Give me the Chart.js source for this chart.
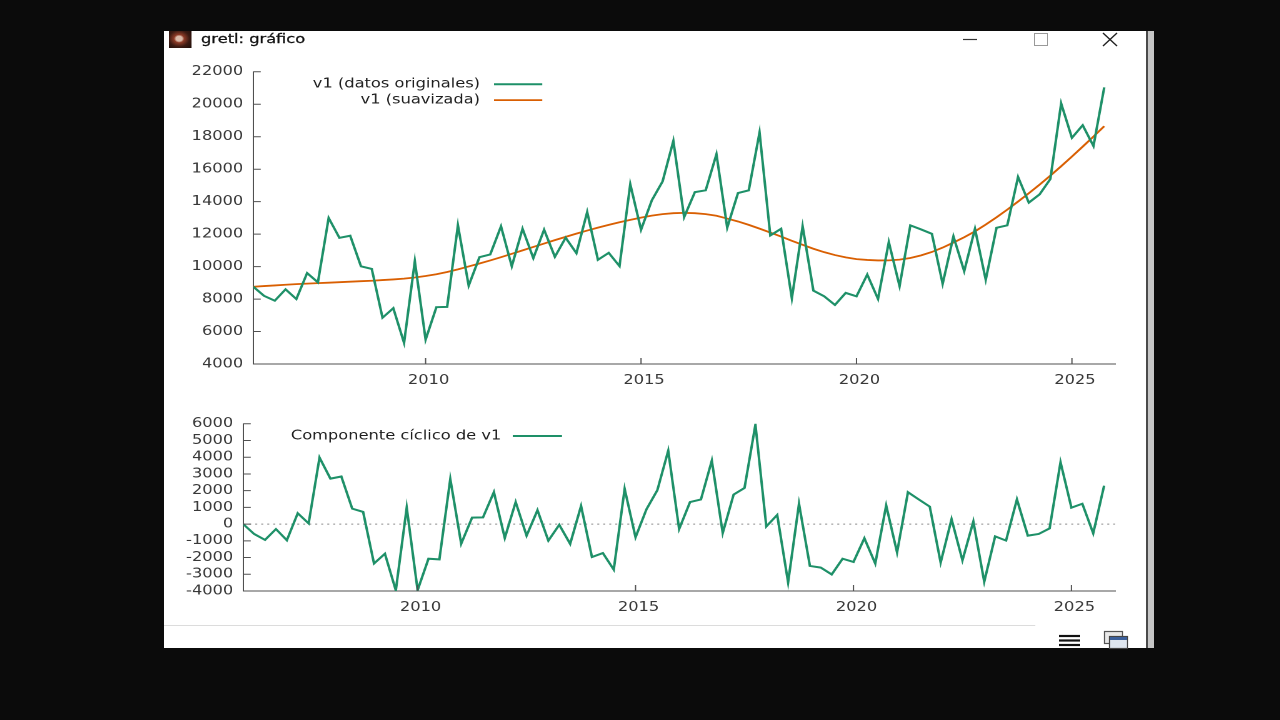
<!DOCTYPE html>
<html>
<head>
<meta charset="utf-8">
<title>gretl: gráfico</title>
<script src="https://cdn.jsdelivr.net/npm/chart.js@4.4.1/dist/chart.umd.min.js"></script>
<style>
  html, body { margin: 0; width: 1280px; height: 720px; overflow: hidden; background: #0b0b0b; font-family: "DejaVu Sans", sans-serif; }
  #win { position: absolute; left: 164px; top: 31px; width: 982px; height: 617px; background: #fff; }
  #strip { position: absolute; left: 1146px; top: 31px; width: 8px; height: 617px; background: #c6c6c6; border-left: 2px solid #4a4a4a; box-sizing: border-box; }
  /* the reference screenshot is stretched horizontally, so the drawing is too */
  #inner { position: absolute; left: 164px; top: 0; width: 784px; height: 720px; transform: scaleX(1.25); transform-origin: 0 0; }
  .box { position: absolute; left: 0; width: 784px; }
  #top { top: 56px; height: 340px; }
  #bot { top: 408px; height: 225px; }
  #icon { position: absolute; left: 3.5px; top: 31px; width: 18px; height: 17px;
          background: radial-gradient(circle at 45% 45%, #d9b9a8 0 18%, #8c3a26 30%, #3b1a12 60%, #1c0c08 100%); }
  #title { position: absolute; left: 29.6px; top: 31px; line-height: 16px; font-size: 13px; color: #111; white-space: nowrap; -webkit-text-stroke: 0.3px #111; }
  #sep { position: absolute; left: 0; top: 625px; width: 697px; height: 1px; background: #dcdcdc; }
</style>
</head>
<body>
<div id="win"></div>
<div id="strip"></div>
<div id="inner">
  <div id="icon"></div>
  <div id="title">gretl: gráfico</div>
  <div id="sep"></div>
  <div class="box" id="top"><canvas id="trendChart"></canvas></div>
  <div class="box" id="bot"><canvas id="cycleChart"></canvas></div>
</div>
<svg width="1280" height="720" style="position:absolute;left:0;top:0;pointer-events:none">
  <line x1="963" y1="39.5" x2="977" y2="39.5" stroke="#333" stroke-width="1.2"/>
  <rect x="1034.5" y="33.5" width="13" height="12" fill="none" stroke="#9a9a9a" stroke-width="1"/>
  <line x1="1103" y1="33" x2="1117" y2="46" stroke="#222" stroke-width="1.4"/>
  <line x1="1117" y1="33" x2="1103" y2="46" stroke="#222" stroke-width="1.4"/>
  <g stroke="#111" stroke-width="2.2">
    <line x1="1059" y1="636" x2="1080" y2="636"/>
    <line x1="1059" y1="640.5" x2="1080" y2="640.5"/>
    <line x1="1059" y1="645" x2="1080" y2="645"/>
  </g>
  <rect x="1104.5" y="631.5" width="18" height="12" fill="#e8e8e8" stroke="#555" stroke-width="1.2"/>
  <rect x="1109.5" y="636.5" width="18" height="12" fill="#dfe6ef" stroke="#444" stroke-width="1.2"/>
  <rect x="1110" y="637" width="17" height="3" fill="#3b5f9a"/>
</svg>
<script>
// quarterly series, 2006:1 - 2025:4
const firstYear = 2006;
const original = [
  8760, 8200, 7900, 8600, 8000, 9600, 9030, 13000, 11770, 11900,
  10020, 9860, 6850, 7440, 5300, 10330, 5500, 7500, 7520, 12540,
  8830, 10580, 10750, 12480, 10020, 12330, 10520, 12270, 10600, 11780,
  10830, 13360, 10420, 10850, 10030, 15070, 12270, 14080, 15250, 17740,
  13050, 14590, 14700, 16920, 12400, 14530, 14700, 18260, 11920, 12330,
  8050, 12480, 8520, 8170, 7640, 8380, 8170, 9510, 8010, 11510,
  8800, 12540, 12290, 12020, 8940, 11860, 9720, 12330, 9190, 12390,
  12540, 15520, 13940, 14450, 15400, 20050, 17930, 18710, 17430, 21040
];
const smoothed = [
  8760, 8800, 8840, 8880, 8920, 8950, 8980, 9010, 9040, 9070,
  9100, 9130, 9170, 9210, 9260, 9330, 9420, 9530, 9670, 9830,
  10010, 10190, 10380, 10580, 10790, 11000, 11210, 11420, 11630, 11830,
  12030, 12220, 12400, 12570, 12730, 12880, 13020, 13140, 13230, 13290,
  13310, 13290, 13230, 13130, 12960, 12780, 12570, 12340, 12100, 11850,
  11590, 11340, 11100, 10890, 10710, 10570, 10460, 10410, 10380, 10385,
  10430, 10530, 10690, 10900, 11170, 11480, 11810, 12170, 12590, 13035,
  13510, 14005, 14517, 15050, 15605, 16182, 16780, 17390, 18010, 18650
];
const cycle = [
  0, -590, -945, -295, -965, 650, 40, 3980, 2720, 2850,
  925, 730, -2360, -1770, -3960, 985, -3950, -2070, -2110, 2700,
  -1170, 390, 400, 1910, -830, 1320, -690, 830, -985, -40,
  -1180, 1085, -1970, -1730, -2720, 2110, -790, 885, 2030, 4390,
  -295, 1320, 1475, 3800, -530, 1770, 2165, 5945, -140, 550,
  -3485, 1220, -2500, -2600, -3010, -2070, -2265, -845, -2360, 1120,
  -1690, 1910, 1475, 1045, -2300, 295, -2165, 155, -3445, -730,
  -985, 1475, -690, -590, -255, 3700, 985, 1220, -550, 2300
];
const xTicks = [2010, 2015, 2020, 2025];
const topYTicks = [4000, 6000, 8000, 10000, 12000, 14000, 16000, 18000, 20000, 22000];
const botYTicks = [-4000, -3000, -2000, -1000, 0, 1000, 2000, 3000, 4000, 5000, 6000];

const GREEN = "#1e9068";
const ORANGE = "#d95f02";
const AXIS = "#505050";
const TXT = "#383838";
const FONT = { family: "DejaVu Sans", size: 13 };

function points(values) {
  return values.map((v, i) => ({ x: firstYear + i / 4, y: v }));
}

// gnuplot style: ticks point into the plot
const innerTicks = {
  id: "innerTicks",
  afterDraw(chart) {
    const { ctx, chartArea: a, scales: { x, y } } = chart;
    ctx.save();
    ctx.strokeStyle = AXIS;
    ctx.lineWidth = 1;
    ctx.beginPath();
    x.ticks.forEach(t => {
      const px = x.getPixelForValue(t.value);
      ctx.moveTo(px, a.bottom);
      ctx.lineTo(px, a.bottom - 6);
    });
    y.ticks.forEach(t => {
      const py = y.getPixelForValue(t.value);
      ctx.moveTo(a.left, py);
      ctx.lineTo(a.left + 6, py);
    });
    ctx.stroke();
    ctx.restore();
  }
};

// key: label right aligned, line sample after it
const keyBox = {
  id: "keyBox",
  afterDraw(chart, args, opts) {
    const { ctx } = chart;
    ctx.save();
    ctx.font = "13px 'DejaVu Sans'";
    ctx.textAlign = "right";
    ctx.textBaseline = "middle";
    chart.data.datasets.forEach((ds, i) => {
      const yy = opts.top + i * opts.step;
      ctx.fillStyle = "#1e1e1e";
      ctx.fillText(ds.label, opts.right, yy);
      ctx.strokeStyle = ds.borderColor;
      ctx.lineWidth = ds.borderWidth;
      ctx.beginPath();
      ctx.moveTo(opts.from, yy);
      ctx.lineTo(opts.to, yy);
      ctx.stroke();
    });
    ctx.restore();
  }
};

const zeroLine = {
  id: "zeroLine",
  beforeDatasetsDraw(chart) {
    const { ctx, chartArea: a, scales: { y } } = chart;
    const py = y.getPixelForValue(0);
    ctx.save();
    ctx.strokeStyle = "#8a8a8a";
    ctx.lineWidth = 1;
    ctx.setLineDash([1.6, 3.2]);
    ctx.beginPath();
    ctx.moveTo(a.left, py);
    ctx.lineTo(a.right, py);
    ctx.stroke();
    ctx.restore();
  }
};

function xScale(height) {
  return {
    type: "linear",
    min: 2006,
    max: 2026,
    grid: { display: false, drawTicks: false },
    border: { display: true, color: AXIS, width: 1 },
    afterBuildTicks: s => { s.ticks = xTicks.map(v => ({ value: v })); },
    afterFit: s => { s.height = height; },
    ticks: { color: TXT, font: FONT, padding: 9, labelOffset: 2.4, maxRotation: 0, autoSkip: false,
             callback: v => String(v) }
  };
}

function yScale(min, max, list, width) {
  return {
    type: "linear",
    min: min,
    max: max,
    grid: { display: false, drawTicks: false },
    border: { display: true, color: AXIS, width: 1 },
    afterBuildTicks: s => { s.ticks = list.map(v => ({ value: v })); },
    afterFit: s => { s.width = width; },
    ticks: { color: TXT, font: FONT, padding: 8, autoSkip: false, callback: v => String(v) }
  };
}

const base = {
  responsive: true,
  maintainAspectRatio: false,
  animation: false,
  devicePixelRatio: 2,
  events: [],
  elements: { point: { radius: 0 }, line: { tension: 0 } }
};

new Chart("trendChart", {
  type: "line",
  data: {
    datasets: [
      { label: "v1 (datos originales)", data: points(original), borderColor: GREEN, borderWidth: 2 },
      { label: "v1 (suavizada)", data: points(smoothed), borderColor: ORANGE, borderWidth: 1.8 }
    ]
  },
  options: Object.assign({}, base, {
    layout: { padding: { top: 14, right: 23.2, bottom: 0, left: 0 } },
    plugins: {
      legend: { display: false },
      tooltip: { enabled: false },
      keyBox: { right: 252.8, from: 264, to: 302.6, top: 28.3, step: 15.8 }
    },
    scales: { x: xScale(32), y: yScale(4000, 22000, topYTicks, 71.4) }
  }),
  plugins: [innerTicks, keyBox]
});

new Chart("cycleChart", {
  type: "line",
  data: {
    datasets: [
      { label: "Componente cíclico de v1", data: points(cycle), borderColor: GREEN, borderWidth: 2 }
    ]
  },
  options: Object.assign({}, base, {
    layout: { padding: { top: 14, right: 23.2, bottom: 0, left: 0 } },
    plugins: {
      legend: { display: false },
      tooltip: { enabled: false },
      keyBox: { right: 269.8, from: 279, to: 318.4, top: 28, step: 16 }
    },
    scales: { x: xScale(42), y: yScale(-4000, 6000, botYTicks, 63.4) }
  }),
  plugins: [zeroLine, innerTicks, keyBox]
});
</script>
</body>
</html>
